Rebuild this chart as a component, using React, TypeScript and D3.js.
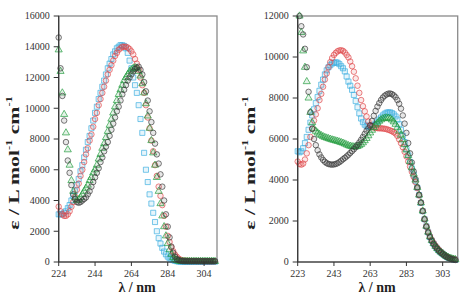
import React from "react";
import * as d3 from "d3";

// ---------- Left panel data (λ from 224 nm, 1 nm steps) ----------
const leftStart = 224;
const leftBlue = [
  3100, 3100, 3100, 3200, 3300, 3500, 3700, 4000, 4300, 4600,
  5000, 5400, 5900, 6300, 6800, 7300, 7800, 8200, 8700, 9200,
  9700, 10100, 10600, 11000, 11400, 11800, 12200, 12600, 12900, 13200,
  13500, 13700, 13900, 14000, 14100, 14100, 14050, 13900, 13600, 13100,
  12600, 12000, 11500, 11000, 10200, 9300, 8400, 7100, 6000, 5200,
  4400, 3800, 3200, 2600, 2000, 1550, 1200, 920, 680, 500,
  350, 240, 160, 120, 80, 50, 30,
  20, 20, 20, 20, 20, 20, 20, 20, 20, 20, 20, 20, 20, 20, 20, 20, 20, 20, 20, 20,
];
const leftRed = [
  3600, 3300, 3100, 3000, 3000, 3100, 3300, 3600, 3900, 4250,
  4700, 5100, 5600, 6000, 6500, 7000, 7400, 7900, 8300, 8800,
  9300, 9700, 10200, 10600, 11000, 11400, 11800, 12200, 12500, 12800,
  13100, 13400, 13600, 13800, 13900, 14000, 14000, 14000, 13950, 13850,
  13700, 13500, 13200, 12900, 12500, 12000, 11500, 11000, 10200, 9400,
  8700, 7900, 7200, 6300, 5600, 4900, 4300, 3700, 3000, 2300,
  1700, 1300, 950, 700, 480, 340, 220, 150, 110, 90,
  80, 75, 70, 70, 65, 65, 60, 60, 60, 55, 55, 55, 50, 50, 50, 50, 50,
];
const leftGreen = [
  13800, 12400, 11000, 9600, 8400, 7300, 6300, 5300, 4600, 4200,
  4000, 4050, 4200, 4400, 4600, 4800, 5000, 5300, 5500, 5800,
  6000, 6300, 6700, 7000, 7400, 7700, 8100, 8500, 8900, 9300,
  9700, 10100, 10500, 10900, 11200, 11500, 11800, 12000, 12200, 12400,
  12500, 12600, 12650, 12600, 12400, 12100, 11600, 11000, 10300, 9500,
  8700, 7900, 7100, 6300, 5500, 4600, 3800, 3000, 2300, 1700,
  1200, 800, 500, 300, 180, 100, 60,
  40, 40, 40, 40, 40, 40, 40, 40, 40, 40, 40, 40, 40, 40, 40, 40, 40, 40, 40, 40,
];
const leftBlack = [
  14600, 12600, 10800, 9200, 7800, 6600, 5800, 5000, 4400, 4100,
  3900, 3850, 3900, 4000, 4100, 4200, 4400, 4600, 4900, 5200,
  5500, 5800, 6100, 6500, 6800, 7200, 7500, 7800, 8200, 8600,
  9000, 9400, 9800, 10100, 10500, 10900, 11200, 11500, 11800, 12000,
  12200, 12400, 12550, 12650, 12700, 12500, 12200, 11700, 11100, 10500,
  9800, 9100, 8400, 7700, 7000, 6400, 5700, 4900, 4000, 3100,
  2300, 1600, 1000, 600, 350, 200, 120, 80, 60,
  50, 50, 50, 50, 50, 50, 50, 50, 50, 50, 50, 50, 50, 50, 50, 50, 50, 50,
];
const leftXTicks = [224, 244, 264, 284, 304];
const leftYTicks = [0, 2000, 4000, 6000, 8000, 10000, 12000, 14000, 16000];

// ---------- Right panel data ----------
const rightStartBR = 223; // blue, red
const rightStartGK = 224; // green, black
const rightBlue = [
  5400, 5350, 5400, 5550, 5800, 6100, 6450, 6800, 7150, 7450,
  7750, 8050, 8350, 8650, 8900, 9150, 9350, 9500, 9600, 9680,
  9720, 9740, 9720, 9650, 9550, 9450, 9300, 9050, 8800, 8600,
  8400, 8150, 7850, 7550, 7250, 7000, 6820, 6700, 6630, 6600,
  6600, 6620, 6680, 6750, 6850, 6950, 7050, 7150, 7230, 7280,
  7300, 7300, 7260, 7200, 7100, 6950, 6720, 6450, 6150, 5850,
  5520, 5200, 4880, 4560, 4260, 3960, 3620, 3260, 2880, 2480,
  2090, 1740, 1450, 1220, 1040, 890, 760, 650, 550, 470,
  400, 330, 270, 220, 180, 150, 130, 110,
];
const rightRed = [
  4900, 4780, 4750, 4800, 5000, 5300, 5700, 6100, 6500, 6900,
  7200, 7500, 7900, 8200, 8550, 8900, 9200, 9500, 9750, 9950,
  10100, 10200, 10280, 10320, 10330, 10300, 10220, 10100, 9980, 9780,
  9550, 9280, 8960, 8600, 8250, 7900, 7600, 7350, 7100, 6850,
  6680, 6600, 6560, 6540, 6530, 6520, 6520, 6510, 6500, 6480,
  6450, 6420, 6380, 6330, 6270, 6150, 5980, 5800, 5600, 5380,
  5150, 4900, 4650, 4400, 4150, 3900, 3600, 3250, 2900, 2500,
  2100, 1750, 1480, 1260, 1080, 930, 800, 690, 590, 500,
  420, 350, 290, 240, 200, 170, 150, 130,
];
const rightGreen = [
  12000, 11200, 10300, 9500, 8800, 8000, 7300, 6800, 6500, 6380,
  6300, 6230, 6170, 6120, 6080, 6050, 6020, 5990, 5960, 5940,
  5910, 5890, 5860, 5830, 5800, 5760, 5720, 5680, 5650, 5630,
  5620, 5620, 5640, 5680, 5740, 5820, 5920, 6030, 6160, 6300,
  6430, 6560, 6680, 6780, 6870, 6940, 6990, 7020, 7030, 7020,
  6990, 6930, 6840, 6720, 6570, 6390, 6190, 5970, 5730, 5470,
  5200, 4900, 4600, 4300, 4000, 3640, 3270, 2890, 2490, 2100,
  1750, 1460, 1230, 1050, 900, 770, 660, 560, 480, 410,
  340, 280, 230, 190, 160, 140, 120,
];
const rightBlack = [
  12000, 11500, 11100, 10400, 9500, 8300, 7300, 6500, 6000, 5700,
  5450, 5250, 5100, 4980, 4890, 4820, 4780, 4760, 4750, 4760,
  4780, 4820, 4870, 4940, 5010, 5080, 5150, 5230, 5320, 5410,
  5500, 5600, 5710, 5830, 5960, 6100, 6250, 6400, 6520, 6660,
  6880, 7130, 7370, 7580, 7750, 7900, 8020, 8110, 8170, 8210,
  8220, 8190, 8130, 8040, 7900, 7720, 7480, 7150, 6750, 6300,
  5800, 5300, 4850, 4420, 4050, 3650, 3280, 2900, 2480, 2080,
  1720, 1430, 1210, 1030, 880, 750, 640, 540, 460, 390,
  320, 260, 210, 170, 140, 120, 100,
];
const rightXTicks = [223, 243, 263, 283, 303];
const rightYTicks = [0, 2000, 4000, 6000, 8000, 10000, 12000];

const COLORS = {
  blue: "#3aaee0",
  red: "#e0474a",
  green: "#1f9a3c",
  black: "#3a3a3a",
};

type Shape = "circle" | "square" | "triangle";
interface Series {
  key: string;
  start: number;
  values: number[];
  color: string;
  shape: Shape;
}

const leftSeries: Series[] = [
  { key: "blue", start: leftStart, values: leftBlue, color: COLORS.blue, shape: "square" },
  { key: "red", start: leftStart, values: leftRed, color: COLORS.red, shape: "circle" },
  { key: "green", start: leftStart, values: leftGreen, color: COLORS.green, shape: "triangle" },
  { key: "black", start: leftStart, values: leftBlack, color: COLORS.black, shape: "circle" },
];
const rightSeries: Series[] = [
  { key: "blue", start: rightStartBR, values: rightBlue, color: COLORS.blue, shape: "square" },
  { key: "red", start: rightStartBR, values: rightRed, color: COLORS.red, shape: "circle" },
  { key: "green", start: rightStartGK, values: rightGreen, color: COLORS.green, shape: "triangle" },
  { key: "black", start: rightStartGK, values: rightBlack, color: COLORS.black, shape: "circle" },
];

const symbolPath = (shape: Shape) => {
  if (shape === "circle") return d3.symbol().type(d3.symbolCircle).size(24)()!;
  if (shape === "square") return d3.symbol().type(d3.symbolSquare).size(26)()!;
  return d3.symbol().type(d3.symbolTriangle).size(22)()!;
};

const TICK_FONT = "'Liberation Serif', 'Times New Roman', serif";

interface PanelProps {
  series: Series[];
  xDomain: [number, number];
  xRange: [number, number];
  yMax: number;
  xTicks: number[];
  yTicks: number[];
  yTitleX: number;
  xTitleX: number;
}

function Panel({ series, xDomain, xRange, yMax, xTicks, yTicks, yTitleX, xTitleX }: PanelProps) {
  const top = 16;
  const bottom = 262;
  const x = d3.scaleLinear().domain(xDomain).range(xRange);
  const y = d3.scaleLinear().domain([0, yMax]).range([bottom, top]);
  const [x0, x1] = xRange;
  return (
    <g>
      <rect x={x0} y={top} width={x1 - x0} height={bottom - top} fill="white" stroke="#8a8a8a" strokeWidth={1.3} />
      {series.map((s) => {
        const d = symbolPath(s.shape);
        return (
          <g key={s.key}>
            {s.values.map((v, i) => (
              <path
                key={i}
                d={d}
                transform={`translate(${x(s.start + i)},${y(v)})`}
                fill={s.color}
                fillOpacity={0.12}
                stroke={s.color}
                strokeOpacity={0.85}
                strokeWidth={0.8}
              />
            ))}
          </g>
        );
      })}
      <line x1={x0} x2={x0} y1={top} y2={bottom} stroke="#333" strokeWidth={1.2} />
      <line x1={x0} x2={x1} y1={bottom} y2={bottom} stroke="#333" strokeWidth={1.2} />
      {yTicks.map((t) => (
        <g key={`y${t}`}>
          <line x1={x0 - 5} x2={x0} y1={y(t)} y2={y(t)} stroke="#333" strokeWidth={1} />
          <text
            x={x0 - 9}
            y={y(t)}
            dy="0.33em"
            textAnchor="end"
            fontFamily={TICK_FONT}
            fontSize={10}
            fill="#333"
          >
            {t}
          </text>
        </g>
      ))}
      {xTicks.map((t) => (
        <g key={`x${t}`}>
          <line x1={x(t)} x2={x(t)} y1={bottom} y2={bottom + 4} stroke="#333" strokeWidth={1} />
          <text
            x={x(t)}
            y={bottom + 15}
            textAnchor="middle"
            fontFamily={TICK_FONT}
            fontSize={10}
            fill="#333"
          >
            {t}
          </text>
        </g>
      ))}
      <text
        x={xTitleX}
        y={292}
        textAnchor="middle"
        fontFamily={TICK_FONT}
        fontWeight="bold"
        fontSize={14}
        fill="#222"
      >
        λ / nm
      </text>
      <text
        transform={`translate(${yTitleX},163) rotate(-90) scale(1.55,1)`}
        textAnchor="middle"
        dominantBaseline="central"
        fontFamily={TICK_FONT}
        fontWeight="bold"
        fontSize={14}
        fill="#222"
      >
        ε / L mol
        <tspan fontSize={8} dy={-5}>-1</tspan>
        <tspan dy={5}> cm</tspan>
        <tspan fontSize={8} dy={-5}>-1</tspan>
      </text>
    </g>
  );
}

export default function App() {
  return (
    <svg
      width={473}
      height={305}
      style={{ position: "absolute", left: 0, top: 0, background: "white" }}
    >
      <Panel
        series={leftSeries}
        xDomain={[224, 311.1]}
        xRange={[58.7, 217]}
        yMax={16000}
        xTicks={leftXTicks}
        yTicks={leftYTicks}
        yTitleX={14}
        xTitleX={137}
      />
      <Panel
        series={rightSeries}
        xDomain={[223, 311.3]}
        xRange={[297.7, 457.7]}
        yMax={12000}
        xTicks={rightXTicks}
        yTicks={rightYTicks}
        yTitleX={250}
        xTitleX={377}
      />
    </svg>
  );
}
